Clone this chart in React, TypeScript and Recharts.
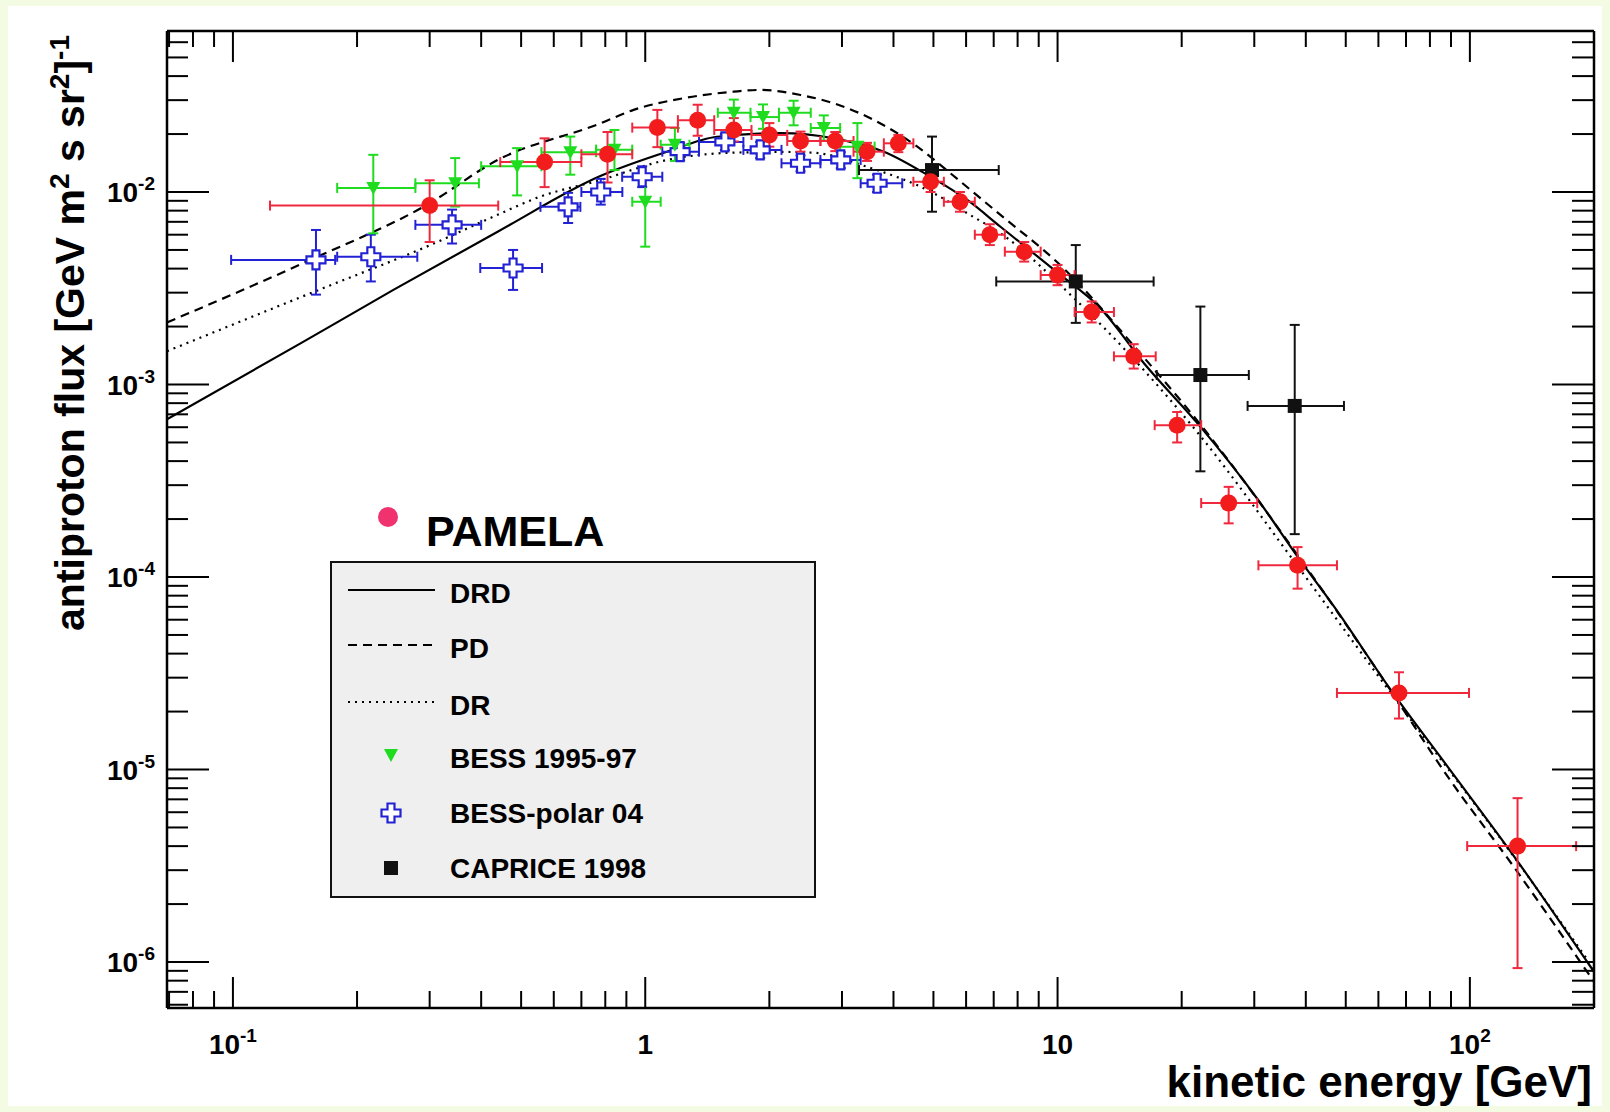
import React from "react";
import {
  ComposedChart,
  ErrorBar,
  Label,
  Line,
  Scatter,
  XAxis,
  YAxis,
} from "recharts";

const WIDTH = 1610;
const HEIGHT = 1112;
const FONT = '"Liberation Sans", Arial, Helvetica, sans-serif';

const RED = "#f31c1c";
const RED_BAR = "#f0283e";
const GREEN = "#1fdc1f";
const BLUE = "#2222d4";
const BLACK = "#111111";

const E_DOMAIN = [0.0692, 200];
const FLUX_DOMAIN = [5.77e-7, 0.0686];

const E_MAJOR = [0.1, 1, 10, 100];
const E_BASE = ["10", "1", "10", "10"];
const E_EXP = ["-1", "", "", "2"];
const E_MINOR = [
  0.07, 0.08, 0.09, 0.2, 0.3, 0.4, 0.5, 0.6, 0.7, 0.8, 0.9, 2, 3, 4, 5, 6, 7,
  8, 9, 20, 30, 40, 50, 60, 70, 80, 90, 200,
];

const FLUX_MAJOR = [1e-6, 1e-5, 1e-4, 1e-3, 1e-2];
const FLUX_EXP = ["-6", "-5", "-4", "-3", "-2"];
const FLUX_MINOR = [
  6e-7, 7e-7, 8e-7, 9e-7, 2e-6, 3e-6, 4e-6, 5e-6, 6e-6, 7e-6, 8e-6, 9e-6,
  2e-5, 3e-5, 4e-5, 5e-5, 6e-5, 7e-5, 8e-5, 9e-5, 2e-4, 3e-4, 4e-4, 5e-4,
  6e-4, 7e-4, 8e-4, 9e-4, 2e-3, 3e-3, 4e-3, 5e-3, 6e-3, 7e-3, 8e-3, 9e-3,
  2e-2, 3e-2, 4e-2, 5e-2, 6e-2,
];

// [E, flux, E low, E high, flux low, flux high]
const PAMELA = [
  [0.3, 0.0085, 0.123, 0.44, 0.0055, 0.0115],
  [0.57, 0.0143, 0.445, 0.7, 0.0106, 0.019],
  [0.81, 0.0157, 0.7, 0.93, 0.0112, 0.0205],
  [1.07, 0.0216, 0.93, 1.2, 0.0171, 0.0267],
  [1.34, 0.0236, 1.2, 1.47, 0.0196, 0.0284],
  [1.64, 0.021, 1.47, 1.81, 0.0183, 0.0242],
  [2.0, 0.0198, 1.81, 2.21, 0.0172, 0.0228],
  [2.38, 0.0184, 2.21, 2.66, 0.0162, 0.0206],
  [2.89, 0.0184, 2.66, 3.2, 0.0163, 0.0205],
  [3.45, 0.0162, 3.2, 3.79, 0.0145, 0.018],
  [4.11, 0.0179, 3.79, 4.47, 0.0161, 0.0198],
  [4.92, 0.0113, 4.47, 5.3, 0.01, 0.0127],
  [5.8, 0.0089, 5.3, 6.3, 0.0079, 0.01],
  [6.85, 0.006, 6.3, 7.45, 0.0053, 0.0068],
  [8.3, 0.0049, 7.45, 9.1, 0.00435, 0.0055],
  [10.0, 0.0037, 9.1, 11.0, 0.00328, 0.00418],
  [12.1, 0.00238, 11.0, 13.7, 0.0021, 0.0027],
  [15.3, 0.0014, 13.7, 17.3, 0.00121, 0.00162],
  [19.5, 0.000615, 17.2, 22.3, 0.0005, 0.00072],
  [26.0, 0.000242, 22.3, 30.5, 0.00019, 0.000294],
  [38.2, 0.000115, 30.7, 47.6, 8.7e-5, 0.000143],
  [67.3, 2.5e-5, 47.6, 99.5, 1.84e-5, 3.2e-5],
  [130.5, 4.0e-6, 98.5, 181, 9.3e-7, 7.1e-6],
];

const BESS_95_97 = [
  [0.219, 0.0105, 0.179, 0.277, 0.0061, 0.0156],
  [0.346, 0.0111, 0.277, 0.395, 0.0084, 0.015],
  [0.489, 0.0136, 0.4, 0.56, 0.0096, 0.0169],
  [0.658, 0.0161, 0.56, 0.76, 0.0123, 0.0194],
  [0.842, 0.0166, 0.76, 0.93, 0.013, 0.021],
  [1.0, 0.0089, 0.93, 1.09, 0.0052, 0.012],
  [1.18, 0.0176, 1.09, 1.28, 0.0145, 0.0215],
  [1.64, 0.0258, 1.5, 1.8, 0.0217, 0.0302],
  [1.93, 0.0245, 1.8, 2.11, 0.0213, 0.0285],
  [2.29, 0.0258, 2.11, 2.52, 0.0222, 0.0298],
  [2.71, 0.0215, 2.52, 2.97, 0.0185, 0.025],
  [3.27, 0.0172, 2.97, 3.6, 0.0118, 0.0228],
];

const BESS_POLAR_04 = [
  [0.159, 0.00444, 0.099, 0.177, 0.00293, 0.00635],
  [0.216, 0.00461, 0.179, 0.28, 0.00343, 0.006],
  [0.34, 0.00675, 0.277, 0.4, 0.0054, 0.0081],
  [0.478, 0.00403, 0.398, 0.562, 0.0031, 0.005],
  [0.65, 0.00837, 0.557, 0.696, 0.0069, 0.0099],
  [0.78, 0.01, 0.7, 0.88, 0.0086, 0.0117],
  [0.983, 0.012, 0.879, 1.1, 0.0106, 0.0136],
  [1.215, 0.0162, 1.1, 1.35, 0.0146, 0.0179],
  [1.56, 0.0182, 1.35, 1.73, 0.0165, 0.02],
  [1.9, 0.01655, 1.73, 2.14, 0.015, 0.0182],
  [2.38, 0.0141, 2.14, 2.66, 0.0128, 0.0155],
  [2.98, 0.01467, 2.66, 3.33, 0.0133, 0.0161],
  [3.65, 0.0111, 3.33, 4.2, 0.01, 0.0123],
];

const CAPRICE_98 = [
  [4.96, 0.013, 3.3, 7.2, 0.0079, 0.0194],
  [11.07, 0.00343, 7.1, 17.1, 0.00209, 0.0053],
  [22.2, 0.00112, 17.4, 29.1, 0.000354, 0.00254],
  [37.6, 0.000774, 28.9, 49.5, 0.000167, 0.00204],
];

// model curves, [E, flux]
const DRD = [
  [0.0692, 0.00066], [0.1455, 0.00163], [0.245, 0.0031], [0.4385, 0.00622],
  [0.778, 0.0121], [1.129, 0.01618], [1.493, 0.01937], [2.127, 0.0202],
  [2.864, 0.019], [3.79, 0.0162], [4.92, 0.012], [6.04, 0.00909],
  [7.27, 0.0066], [10.0, 0.00381], [12.7, 0.00249], [16.2, 0.00129],
  [22.2, 0.000604], [30.5, 0.000255], [38.2, 0.0001276], [46.9, 7.0e-5],
  [64.3, 2.59e-5], [88.3, 1.035e-5], [128.1, 3.53e-6], [200, 8.9e-7],
];

const PD = [
  [0.0692, 0.0021], [0.1538, 0.00443], [0.295, 0.00856], [0.4385, 0.01466],
  [0.778, 0.0227], [0.937, 0.0267], [1.239, 0.0307], [1.638, 0.0332],
  [1.9, 0.0339], [2.38, 0.0319], [2.864, 0.0289], [3.58, 0.0237],
  [4.57, 0.0172], [5.5, 0.0125], [7.27, 0.0076], [10.0, 0.0043],
  [16.2, 0.00138], [22.2, 0.00062], [38.2, 0.00013], [64.3, 2.57e-5],
  [88.3, 9.2e-6], [128.1, 3.1e-6], [200, 7.9e-7],
];

const DR = [
  [0.0692, 0.00149], [0.1688, 0.00322], [0.295, 0.0052], [0.428, 0.00744],
  [0.556, 0.00946], [0.778, 0.01153], [1.129, 0.01466], [1.58, 0.01596],
  [2.127, 0.01615], [2.56, 0.016], [3.45, 0.01352], [5.01, 0.00985],
  [6.04, 0.00775], [7.27, 0.0061], [10.96, 0.00281], [22.2, 0.00054],
  [38.2, 0.000114], [64.3, 2.5e-5], [128.1, 3.5e-6], [200, 9.2e-7],
];

const toRows = (pts: number[][]) =>
  pts.map(([e, f, eLo, eHi, fLo, fHi]) => ({
    e,
    f,
    ex: [e - eLo, eHi - e],
    ey: [f - fLo, fHi - f],
  }));

const toCurve = (pts: number[][]) => pts.map(([e, f]) => ({ e, f }));

// ---- markers ----
const Dot = ({ cx, cy }: any) => <circle cx={cx} cy={cy} r={8.5} fill={RED} />;

const DownTriangle = ({ cx, cy }: any) => (
  <path d={`M${cx - 7},${cy - 6}L${cx + 7},${cy - 6}L${cx},${cy + 7}Z`} fill={GREEN} />
);

const OpenCross = ({ cx, cy }: any) => {
  const s = 9.5;
  const a = 3.5;
  const d =
    `M${cx - a},${cy - s}L${cx + a},${cy - s}L${cx + a},${cy - a}L${cx + s},${cy - a}` +
    `L${cx + s},${cy + a}L${cx + a},${cy + a}L${cx + a},${cy + s}L${cx - a},${cy + s}` +
    `L${cx - a},${cy + a}L${cx - s},${cy + a}L${cx - s},${cy - a}L${cx - a},${cy - a}Z`;
  return <path d={d} fill="#fff" stroke={BLUE} strokeWidth={2.2} />;
};

const Square = ({ cx, cy }: any) => (
  <rect x={cx - 7} y={cy - 7} width={14} height={14} fill={BLACK} />
);

// ---- axis ticks (ROOT style: inward on all four sides) ----
function BottomTick({ x, y, payload }: any) {
  const i = E_MAJOR.indexOf(payload.value);
  return (
    <g>
      <line x1={x} y1={y} x2={x} y2={y - (i >= 0 ? 31 : 17)} stroke="#000" strokeWidth={2} />
      {i >= 0 && (
        <text x={x} y={y + 46} textAnchor="middle" fontSize={28} fontWeight="bold" fontFamily={FONT} fill="#000">
          {E_BASE[i]}
          {E_EXP[i] && (
            <tspan dy={-12} fontSize={19}>
              {E_EXP[i]}
            </tspan>
          )}
        </text>
      )}
    </g>
  );
}

function TopTick({ x, y, payload }: any) {
  const major = E_MAJOR.includes(payload.value);
  return <line x1={x} y1={y} x2={x} y2={y + (major ? 31 : 16)} stroke="#000" strokeWidth={2} />;
}

function LeftTick({ x, y, payload }: any) {
  const i = FLUX_MAJOR.indexOf(payload.value);
  return (
    <g>
      <line x1={x} y1={y} x2={x + (i >= 0 ? 42 : 21)} y2={y} stroke="#000" strokeWidth={2} />
      {i >= 0 && (
        <text x={x - 12} y={y + 10} textAnchor="end" fontSize={28} fontWeight="bold" fontFamily={FONT} fill="#000">
          10
          <tspan dy={-12} fontSize={19}>
            {FLUX_EXP[i]}
          </tspan>
        </text>
      )}
    </g>
  );
}

function RightTick({ x, y, payload }: any) {
  const major = FLUX_MAJOR.includes(payload.value);
  return <line x1={x} y1={y} x2={x - (major ? 42 : 22)} y2={y} stroke="#000" strokeWidth={2} />;
}

function XTitle({ viewBox }: any) {
  return (
    <text
      x={viewBox.x + viewBox.width - 2}
      y={viewBox.y + 89}
      textAnchor="end"
      fontSize={44}
      fontWeight="bold"
      fontFamily={FONT}
      fill="#000"
    >
      kinetic energy [GeV]
    </text>
  );
}

function YTitle({ viewBox }: any) {
  const tx = viewBox.x - 82;
  const ty = viewBox.y + 4;
  return (
    <text
      transform={`translate(${tx},${ty}) rotate(-90)`}
      textAnchor="end"
      fontSize={41}
      fontWeight="bold"
      fontFamily={FONT}
      fill="#000"
    >
      antiproton flux [GeV m
      <tspan dy={-15} fontSize={28}>2</tspan>
      <tspan dy={15}> s sr</tspan>
      <tspan dy={-15} fontSize={28}>2</tspan>
      <tspan dy={15}>]</tspan>
      <tspan dy={-15} fontSize={28}>-1</tspan>
    </text>
  );
}

// ---- legend ----
const LEGEND_ROWS = ["DRD", "PD", "DR", "BESS 1995-97", "BESS-polar 04", "CAPRICE 1998"];
const ROW_Y = [593, 648, 705, 758, 813, 868];

function LegendOverlay() {
  const sample = (row: number) => {
    const y = ROW_Y[row] - 3;
    if (row === 0) return <line x1={348} x2={435} y1={y} y2={y} stroke="#000" strokeWidth={2} />;
    if (row === 1)
      return <line x1={348} x2={435} y1={y} y2={y} stroke="#000" strokeWidth={2} strokeDasharray="9 6" />;
    if (row === 2)
      return <line x1={348} x2={435} y1={y} y2={y} stroke="#000" strokeWidth={2} strokeDasharray="2 5" />;
    if (row === 3) return <DownTriangle cx={391} cy={ROW_Y[row] - 3} />;
    if (row === 4) return <OpenCross cx={391} cy={ROW_Y[row]} />;
    return <Square cx={391} cy={ROW_Y[row]} />;
  };
  return (
    <svg width={WIDTH} height={HEIGHT} style={{ position: "absolute", left: 0, top: 0 }}>
      <circle cx={388} cy={517} r={10} fill="#f0326e" />
      <text x={426} y={546} fontSize={43} fontWeight="bold" fontFamily={FONT} fill="#000">
        PAMELA
      </text>
      <rect x={331} y={562} width={484} height={335} fill="#efefef" stroke={BLACK} strokeWidth={2} />
      {LEGEND_ROWS.map((name, i) => (
        <g key={name}>
          {sample(i)}
          <text x={450} y={ROW_Y[i] + 10} fontSize={28} fontWeight="bold" fontFamily={FONT} fill="#000">
            {name}
          </text>
        </g>
      ))}
    </svg>
  );
}

export default function App() {
  const axisLine = { stroke: "#000", strokeWidth: 2.5 };
  return (
    <div
      style={{
        position: "absolute",
        left: 0,
        top: 0,
        width: WIDTH,
        height: HEIGHT,
        background: "#f3fbe3",
        fontFamily: FONT,
        overflow: "hidden",
      }}
    >
      <div style={{ position: "absolute", left: 8, top: 6, width: 1594, height: 1100, background: "#fff" }} />
      <div style={{ position: "absolute", left: 0, top: 0 }}>
        <ComposedChart width={WIDTH} height={HEIGHT} margin={{ top: 30, left: 166, right: 15, bottom: 103 }}>
          <XAxis
            dataKey="e"
            type="number"
            scale="log"
            domain={E_DOMAIN}
            allowDataOverflow
            ticks={[...E_MAJOR, ...E_MINOR]}
            interval={0}
            height={1}
            tickSize={0}
            tickMargin={0}
            tickLine={false}
            axisLine={axisLine}
            tick={(p: any) => <BottomTick {...p} />}
          >
            <Label content={(p: any) => <XTitle {...p} />} />
          </XAxis>
          <XAxis
            xAxisId="top"
            orientation="top"
            dataKey="e"
            type="number"
            scale="log"
            domain={E_DOMAIN}
            allowDataOverflow
            ticks={[...E_MAJOR, ...E_MINOR]}
            interval={0}
            height={1}
            tickSize={0}
            tickMargin={0}
            tickLine={false}
            axisLine={axisLine}
            tick={(p: any) => <TopTick {...p} />}
          />
          <YAxis
            dataKey="f"
            type="number"
            scale="log"
            domain={FLUX_DOMAIN}
            allowDataOverflow
            ticks={[...FLUX_MAJOR, ...FLUX_MINOR]}
            interval={0}
            width={1}
            tickSize={0}
            tickMargin={0}
            tickLine={false}
            axisLine={axisLine}
            tick={(p: any) => <LeftTick {...p} />}
          >
            <Label content={(p: any) => <YTitle {...p} />} />
          </YAxis>
          <YAxis
            yAxisId="right"
            orientation="right"
            dataKey="f"
            type="number"
            scale="log"
            domain={FLUX_DOMAIN}
            allowDataOverflow
            ticks={[...FLUX_MAJOR, ...FLUX_MINOR]}
            interval={0}
            width={1}
            tickSize={0}
            tickMargin={0}
            tickLine={false}
            axisLine={axisLine}
            tick={(p: any) => <RightTick {...p} />}
          />

          <Line data={toCurve(DRD)} dataKey="f" type="monotone" stroke="#000" strokeWidth={2.2} dot={false} activeDot={false} isAnimationActive={false} />
          <Line data={toCurve(PD)} dataKey="f" type="monotone" stroke="#000" strokeWidth={2.2} strokeDasharray="9 6" dot={false} activeDot={false} isAnimationActive={false} />
          <Line data={toCurve(DR)} dataKey="f" type="monotone" stroke="#000" strokeWidth={2.2} strokeDasharray="2 5" dot={false} activeDot={false} isAnimationActive={false} />

          <Scatter data={toRows(BESS_POLAR_04)} dataKey="f" shape={(p: any) => <OpenCross {...p} />} isAnimationActive={false}>
            <ErrorBar dataKey="ex" direction="x" width={5} stroke={BLUE} strokeWidth={2} />
            <ErrorBar dataKey="ey" direction="y" width={5} stroke={BLUE} strokeWidth={2} />
          </Scatter>
          <Scatter data={toRows(BESS_95_97)} dataKey="f" shape={(p: any) => <DownTriangle {...p} />} isAnimationActive={false}>
            <ErrorBar dataKey="ex" direction="x" width={5} stroke={GREEN} strokeWidth={2} />
            <ErrorBar dataKey="ey" direction="y" width={5} stroke={GREEN} strokeWidth={2} />
          </Scatter>
          <Scatter data={toRows(CAPRICE_98)} dataKey="f" shape={(p: any) => <Square {...p} />} isAnimationActive={false}>
            <ErrorBar dataKey="ex" direction="x" width={5} stroke={BLACK} strokeWidth={2} />
            <ErrorBar dataKey="ey" direction="y" width={5} stroke={BLACK} strokeWidth={2} />
          </Scatter>
          <Scatter data={toRows(PAMELA)} dataKey="f" shape={(p: any) => <Dot {...p} />} isAnimationActive={false}>
            <ErrorBar dataKey="ex" direction="x" width={5} stroke={RED_BAR} strokeWidth={2} />
            <ErrorBar dataKey="ey" direction="y" width={5} stroke={RED_BAR} strokeWidth={2} />
          </Scatter>
        </ComposedChart>
      </div>
      <LegendOverlay />
    </div>
  );
}
